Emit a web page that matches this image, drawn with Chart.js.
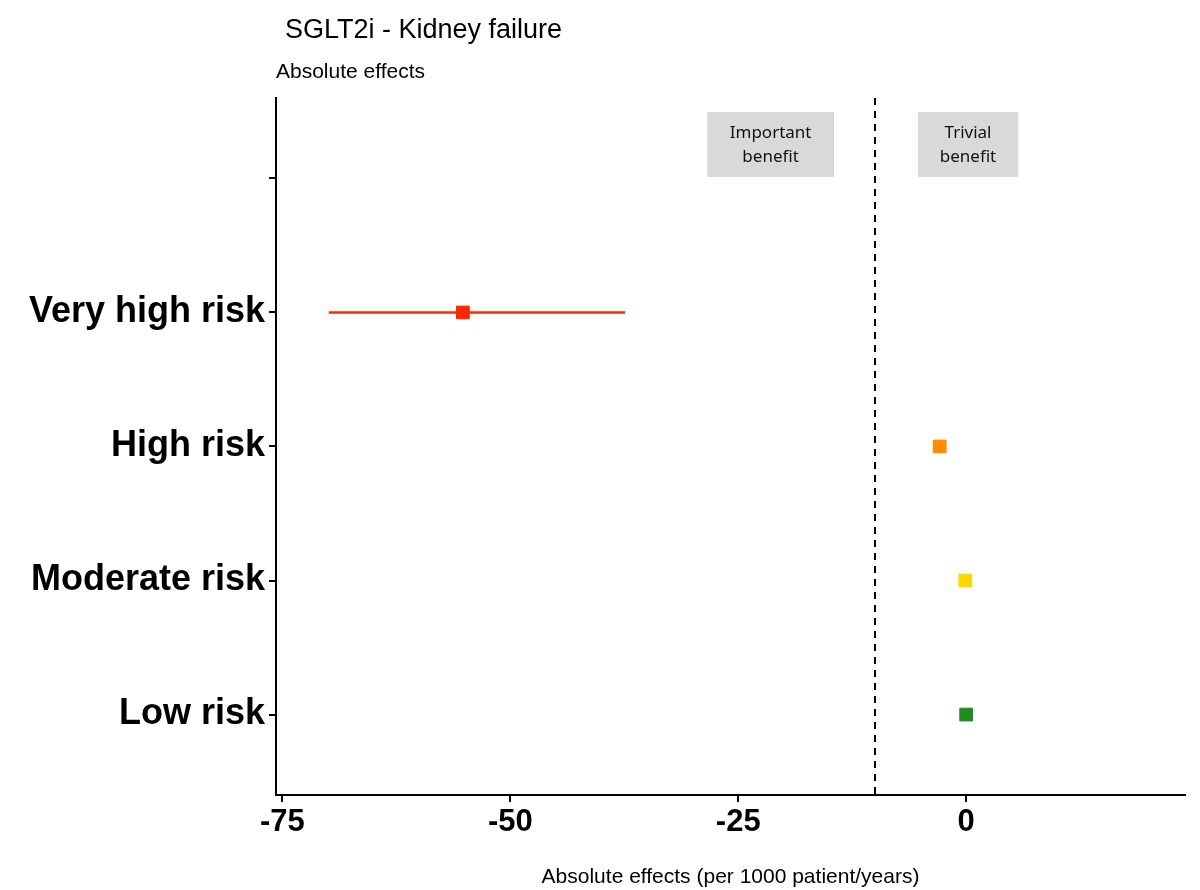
<!DOCTYPE html>
<html>
<head>
<meta charset="utf-8">
<script src="https://cdn.jsdelivr.net/npm/chart.js@4/dist/chart.umd.min.js"></script>
<style>body{margin:0;background:#fff}</style>
</head>
<body>
<canvas id="c" width="1200" height="890"></canvas>
<script>
const categories = ["Low risk", "Moderate risk", "High risk", "Very high risk", ""];
const estimates = [0, -0.1, -2.9, -55.2];
const lowerCI = [null, null, null, -69.9];
const upperCI = [null, null, null, -37.4];
const colors = ["#228B22", "#FFD700", "#FF8C00", "#FF2600"];
const xTicks = [-75, -50, -25, 0];
const threshold = -10;
const boxes = [
  { text: ["Important", "benefit"], x0: -28.4, x1: -14.5 },
  { text: ["Trivial", "benefit"], x0: -5.3, x1: 5.7 }
];

const points = estimates.map((v, i) => ({ x: v, y: i + 1 }));

const extras = {
  id: "extras",
  beforeDatasetsDraw(chart) {
    const { ctx, scales: { x, y }, chartArea } = chart;
    ctx.save();
    // error bars
    estimates.forEach((v, i) => {
      if (lowerCI[i] == null) return;
      ctx.strokeStyle = colors[i];
      ctx.lineWidth = 2.5;
      ctx.beginPath();
      ctx.moveTo(x.getPixelForValue(lowerCI[i]), y.getPixelForValue(i + 1));
      ctx.lineTo(x.getPixelForValue(upperCI[i]), y.getPixelForValue(i + 1));
      ctx.stroke();
    });
    // threshold line
    ctx.strokeStyle = "#000";
    ctx.lineWidth = 2;
    ctx.setLineDash([7, 6]);
    const tx = x.getPixelForValue(threshold);
    ctx.beginPath();
    ctx.moveTo(tx, chartArea.top);
    ctx.lineTo(tx, chartArea.bottom);
    ctx.stroke();
    ctx.setLineDash([]);
    // boxes
    ctx.font = "17px 'Noto Sans'";
    ctx.textAlign = "center";
    ctx.textBaseline = "middle";
    boxes.forEach(b => {
      const a = x.getPixelForValue(b.x0), c = x.getPixelForValue(b.x1);
      ctx.fillStyle = "#d9d9d9";
      ctx.fillRect(a, 112, c - a, 65);
      ctx.fillStyle = "#111";
      ctx.fillText(b.text[0], (a + c) / 2, 133);
      ctx.fillText(b.text[1], (a + c) / 2, 157);
    });
    // titles
    ctx.textAlign = "left";
    ctx.textBaseline = "alphabetic";
    ctx.fillStyle = "#000";
    ctx.font = "27px 'Liberation Sans'";
    ctx.fillText("SGLT2i - Kidney failure", 285, 38);
    ctx.font = "21px 'Liberation Sans'";
    ctx.fillText("Absolute effects", 276, 78);
    ctx.restore();
  }
};

new Chart(document.getElementById("c"), {
  type: "scatter",
  data: {
    datasets: [{
      data: points,
      pointStyle: "rect",
      pointRadius: 9,
      pointBackgroundColor: colors,
      pointBorderColor: colors
    }]
  },
  options: {
    responsive: false,
    animation: false,
    layout: { padding: { top: 98, right: 15, left: 0, bottom: 0 } },
    plugins: { legend: { display: false }, tooltip: { enabled: false } },
    scales: {
      x: {
        min: -75.7, max: 24,
        afterBuildTicks: s => { s.ticks = xTicks.map(v => ({ value: v })); },
        afterFit: s => { s.height = 95; },
        ticks: { color: "#000", font: { size: 31, weight: "bold", family: "'Liberation Sans'" }, padding: 2 },
        grid: { drawOnChartArea: false, color: "#000", tickLength: 7, lineWidth: 2 },
        border: { color: "#000", width: 2 },
        title: { display: true, text: "Absolute effects (per 1000 patient/years)", color: "#000", font: { size: 21, family: "'Liberation Sans'" }, padding: 0 }
      },
      y: {
        min: 0.4, max: 5.6,
        afterBuildTicks: s => { s.ticks = [1, 2, 3, 4, 5].map(v => ({ value: v })); },
        afterFit: s => { s.width = 276; },
        ticks: { color: "#000", font: { size: 36, weight: "bold", family: "'Liberation Sans'" }, callback: v => categories[v - 1], padding: 4 },
        grid: { drawOnChartArea: false, color: "#000", tickLength: 7, lineWidth: 2 },
        border: { color: "#000", width: 2 }
      }
    }
  },
  plugins: [extras]
});
</script>
</body>
</html>
